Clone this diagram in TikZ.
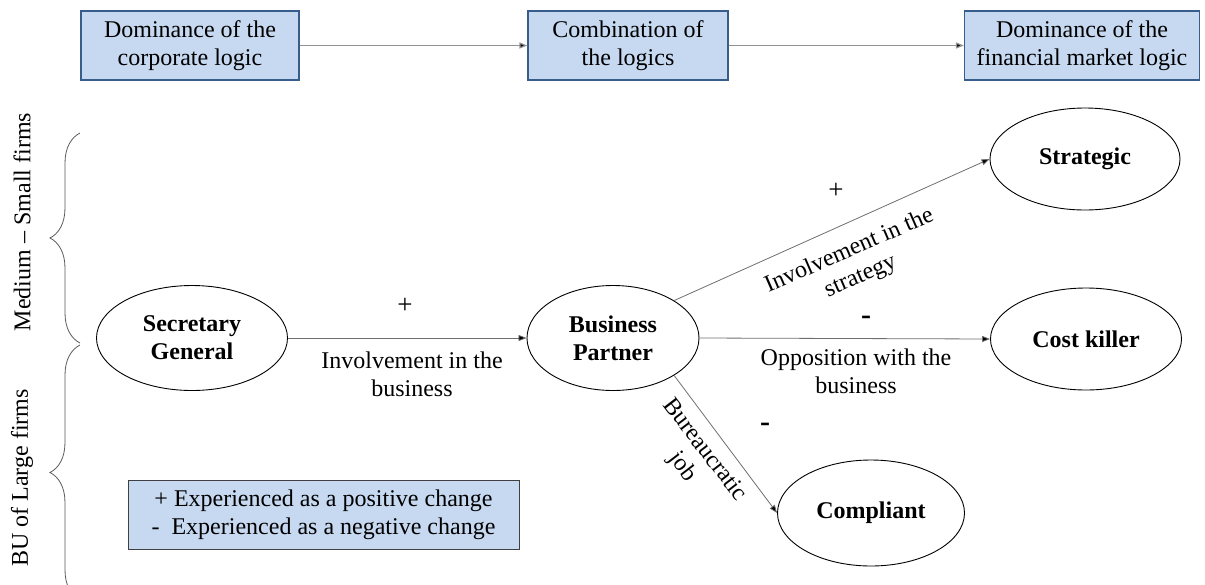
\documentclass[tikz,border=0pt]{standalone}
\usepackage{fontspec}
\setmainfont{Liberation Serif}
\usetikzlibrary{arrows.meta,shapes.geometric,decorations.pathreplacing}
\definecolor{boxfill}{RGB}{198,217,241}
\definecolor{boxborder}{RGB}{56,93,138}
\definecolor{linegray}{RGB}{110,110,110}
\begin{document}
\begin{tikzpicture}[x=1pt,y=1pt,
  txt/.style={font=\fontsize{24}{28}\selectfont, align=center, inner sep=0pt},
  topbox/.style={txt, draw=boxborder, fill=boxfill, line width=1.1pt, minimum height=69pt},
  ell/.style={draw=black, ellipse, line width=0.9pt, inner sep=0pt, font=\fontsize{24}{28}\selectfont\bfseries, align=center},
  arr/.style={draw=linegray, line width=0.8pt, -{Triangle[length=8pt,width=6pt,fill=black]}},
  toparr/.style={draw=gray!85, line width=1.2pt, -{Triangle[length=8pt,width=6pt,fill=black]}},
  sign/.style={font=\fontsize{27}{30}\selectfont, inner sep=0pt},
  minus/.style={font=\fontsize{30}{30}\selectfont\bfseries, inner sep=0pt},
  brc/.style={draw=gray!70!black, line width=0.8pt, decorate, decoration={brace, amplitude=30pt}}
]
\useasboundingbox (0,0) rectangle (1205,-584);
\begin{scope}
\clip (0,0) rectangle (1205,-584);

% top boxes
\node[topbox, minimum width=218pt] (b1) at (190,-45.5) {Dominance of the\\corporate logic};
\node[topbox, minimum width=200pt] (b2) at (628,-45.5) {Combination of\\the logics};
\node[topbox, minimum width=235pt] (b3) at (1082,-45.5) {Dominance of the\\financial market logic};
\draw[toparr] (b1) -- (b2);
\draw[toparr] (b2) -- (b3);

% ellipses
\node[ell, minimum width=191pt, minimum height=105pt] (sg) at (192,-338) {Secretary\\General};
\node[ell, minimum width=172pt, minimum height=105pt] (bp) at (613,-338) {Business\\Partner};
\node[ell, minimum width=190pt, minimum height=102pt] (st) at (1085,-159) {Strategic};
\node[ell, minimum width=191pt, minimum height=102pt] (ck) at (1086,-339) {Cost killer};
\node[ell, minimum width=187pt, minimum height=106pt] (co) at (871,-513) {Compliant};

% connectors
\draw[arr] (sg.east) -- (bp.west);
\draw[arr] (bp.east) -- (ck.west);
\draw[arr] (bp.north east) -- (st.west);
\draw[arr] (bp.south east) -- (co.west);

% labels
\node[sign] (p1) at (405,-306) {+};
\node[txt] (l1) at (412,-374) {Involvement in the\\business};
\node[sign] (p2) at (836,-191) {+};
\node[txt, rotate=23.5] (l2) at (855,-264) {Involvement in the\\strategy};
\node[minus] (m1) at (866,-320) {-};
\node[txt] (l3) at (856,-371) {Opposition with the\\business};
\node[minus] (m2) at (765,-427) {-};
\node[txt, rotate=-52.5] (l4) at (693,-459) {Bureaucratic\\job};

% legend
\node[txt, draw=black!75, fill=boxfill, line width=1pt, minimum width=391pt, minimum height=69pt] (leg) at (323.5,-514.5)
  {+ Experienced as a positive change\\-\ \ Experienced as a negative change};

% braces
\coordinate (t1) at (80,-133);
\coordinate (t2) at (80,-343);
\coordinate (t3) at (80,-345);
\coordinate (t4) at (80,-600);
\draw[brc] (t2) -- (t1);
\draw[brc] (t4) -- (t3);
\node[txt, rotate=90] (g1) at (22,-222) {Medium -- Small firms};
\node[txt, rotate=90] (g2) at (22,-478) {BU of Large firms};
\end{scope}
\end{tikzpicture}
\end{document}
